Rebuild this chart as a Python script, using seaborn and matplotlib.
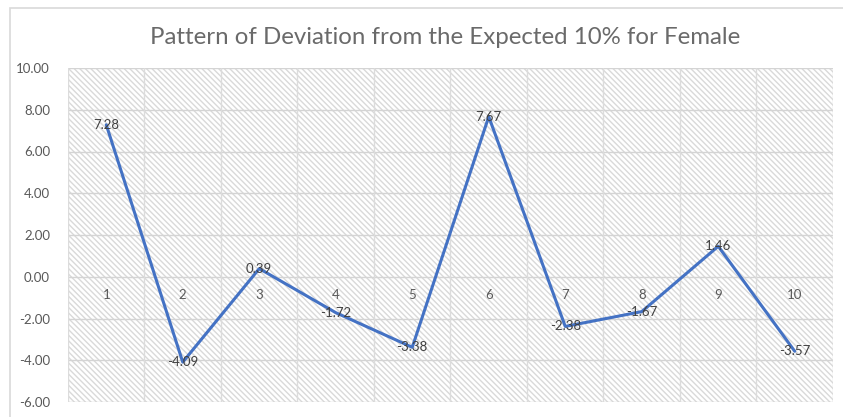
import matplotlib
matplotlib.use("Agg")
import matplotlib.pyplot as plt
from matplotlib.patches import Rectangle
from matplotlib.ticker import FormatStrFormatter, MultipleLocator
import seaborn as sns
import pandas as pd

# Deviation (percentage points) from the expected 10% share, per decile
categories = [1, 2, 3, 4, 5, 6, 7, 8, 9, 10]
deviation = [7.28, -4.09, 0.39, -1.72, -3.38, 7.67, -2.38, -1.67, 1.46, -3.57]
title = "Pattern of Deviation from the Expected 10% for Female"

df = pd.DataFrame({"category": categories, "deviation": deviation})

sns.set_theme(style="white")
plt.rcParams["font.family"] = ["Lato", "DejaVu Sans"]
plt.rcParams["hatch.color"] = "#d9d9d9"
plt.rcParams["hatch.linewidth"] = 1.0

W, H = 843, 417
fig = plt.figure(figsize=(W / 100, H / 100), dpi=100)
fig.patch.set_facecolor("white")

# Outer chart frame
fig.patches.append(Rectangle((10 / W, -0.05), 1.1, 1 - 8 / H + 0.05,
                             transform=fig.transFigure, fill=False,
                             edgecolor="#d9d9d9", linewidth=1.2))

ax = fig.add_axes([68 / W, 1 - 402 / H, (833 - 68) / W, (402 - 68) / H])
ax.set_facecolor("white")

# Diagonal hatched plot area
ax.add_patch(Rectangle((0, 0), 1, 1, transform=ax.transAxes, fill=False,
                       hatch="\\" * 6, edgecolor="#d9d9d9", linewidth=0,
                       zorder=0))

ax.set_xlim(0.5, 10.5)
ax.set_ylim(-6, 10)
ax.yaxis.set_major_locator(MultipleLocator(2))
ax.yaxis.set_major_formatter(FormatStrFormatter("%.2f"))

# Gridlines: horizontal at every 2, vertical between categories
for y in range(-6, 11, 2):
    ax.axhline(y, color="#d4d4d4", linewidth=1.0, zorder=1)
for b in range(0, 11):
    ax.axvline(b + 0.5, color="#dcdcdc", linewidth=1.0, zorder=1)

sns.lineplot(data=df, x="category", y="deviation", ax=ax, color="#4472C4",
             linewidth=2.2, zorder=3, legend=False)

# Category labels sit just under the zero line
for c in categories:
    ax.annotate(str(c), (c, 0), xytext=(0, -13), textcoords="offset points",
                ha="center", va="center", fontsize=9.5, color="#595959")

# Value labels centred on the points
for c, v in zip(categories, deviation):
    ax.annotate(f"{v:.2f}", (c, v), ha="center", va="center", fontsize=9.5,
                color="#404040", zorder=4)

ax.set_xticks([])
ax.set_xlabel("")
ax.set_ylabel("")
ax.tick_params(axis="y", length=0, pad=13, labelsize=9.5, labelcolor="#595959")
for s in ax.spines.values():
    s.set_visible(False)

fig.text(445 / W, 1 - 37 / H, title, ha="center", va="center",
         fontsize=17.3, color="#6a6a6a")

fig.savefig("out.png", dpi=100)
